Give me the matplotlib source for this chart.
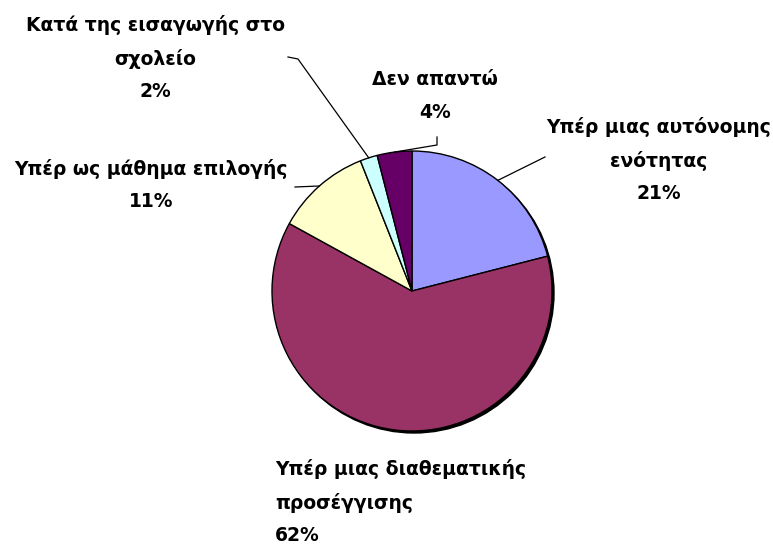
import numpy as np
import matplotlib.pyplot as plt
from matplotlib.patches import Circle

# δεδομένα (σειρά δεξιόστροφα από την κορυφή)
labels = ["Υπέρ μιας αυτόνομης\nενότητας",
          "Υπέρ μιας διαθεματικής\nπροσέγγισης",
          "Υπέρ ως μάθημα επιλογής",
          "Κατά της εισαγωγής στο\nσχολείο",
          "Δεν απαντώ"]
values = [21, 62, 11, 2, 4]
colors = ["#9999FF", "#993366", "#FFFFCC", "#CCFFFF", "#660066"]

W, H = 773, 546
CX, CY, R = 412, H - 291, 140

# θέσεις ετικετών (pixel, y από πάνω) και σημεία γραμμών οδηγών
label_pos = [(659, 160, "center"), (275, 502, "left"), (151, 185, "center"),
             (155, 58, "center"), (435, 96, "center")]
leaders = [[(545, 157)], None, [(295, 187)], [(298, 59), (288, 57)],
           [(437, 145), (437, 137)]]

fig = plt.figure(figsize=(W / 100, H / 100), dpi=100)
ax = fig.add_axes([0, 0, 1, 1])

# σκιά
ax.add_patch(Circle((CX + 2, CY - 2), R, color="black", zorder=0))
wedges, _ = ax.pie(values, colors=colors, startangle=90, counterclock=False,
                   center=(CX, CY), radius=R,
                   wedgeprops=dict(edgecolor="black", linewidth=1.0))
ax.set_xlim(0, W)
ax.set_ylim(0, H)
ax.axis("off")

for w, lab, v, pos, lead in zip(wedges, labels, values, label_pos, leaders):
    x, y, ha = pos
    ax.text(x, H - y, "{}\n{}%".format(lab, v), ha=ha, va="center",
            multialignment=ha, fontsize=13.5, fontweight="bold",
            family="DejaVu Sans", linespacing=1.9)
    if lead is not None:
        ang = np.deg2rad((w.theta1 + w.theta2) / 2)
        pts = [(CX + R * np.cos(ang), CY + R * np.sin(ang))]
        pts += [(px, H - py) for px, py in lead]
        xs, ys = zip(*pts)
        ax.plot(xs, ys, color="black", linewidth=0.9)

fig.savefig("out.png", dpi=100)
